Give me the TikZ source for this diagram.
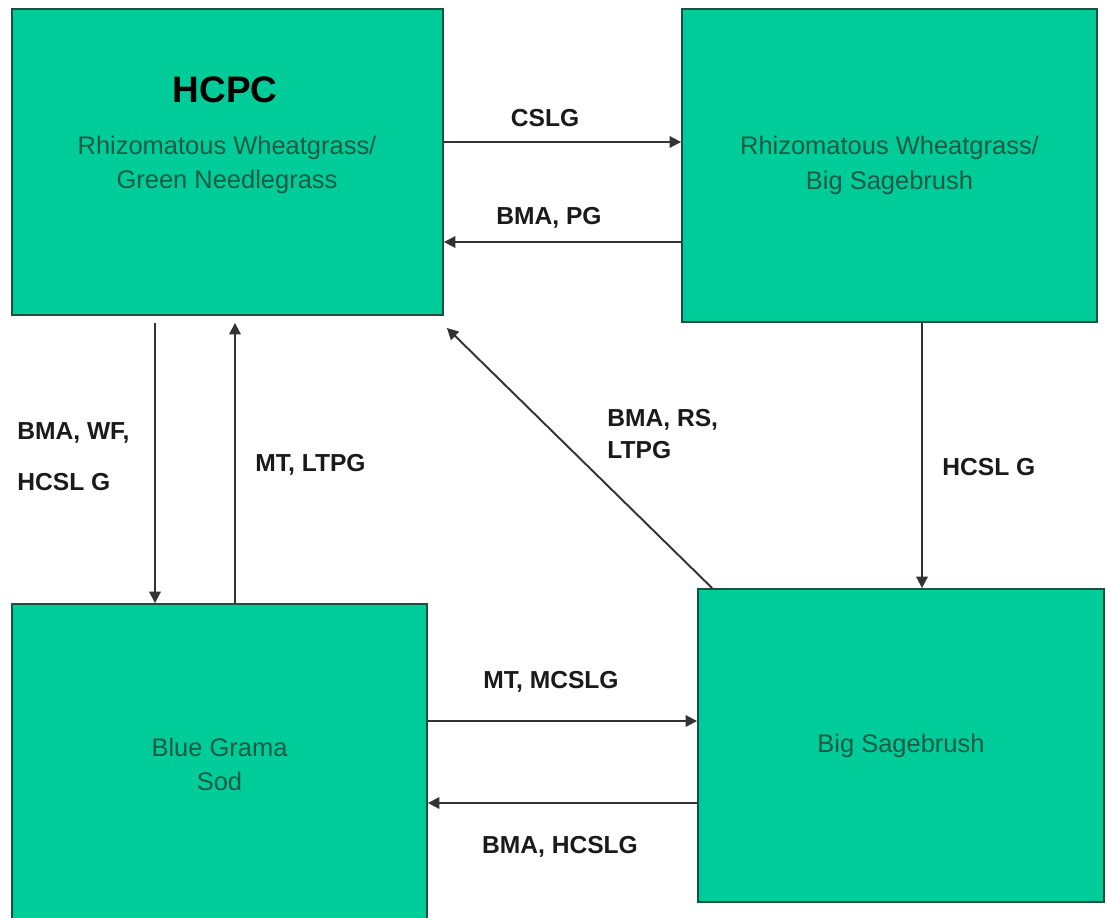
\documentclass[tikz,border=0pt]{standalone}
\usepackage{fontspec}
\setmainfont{Liberation Sans}
\usepackage{tikz}
\usetikzlibrary{arrows.meta, positioning, calc}
\usepackage{xcolor}

\definecolor{boxfill}{HTML}{00CC99}
\definecolor{boxline}{HTML}{1E5040}
\definecolor{boxtext}{HTML}{1F5A44}
\definecolor{flowline}{HTML}{333333}
\definecolor{labeltext}{HTML}{1A1A1A}

\tikzset{
  statebox/.style={draw=boxline, line width=1.1pt, fill=boxfill, inner sep=0pt,
    align=center, text=boxtext, font=\fontsize{14.5}{19.5}\selectfont},
  flow/.style={draw=flowline, line width=1.1pt, -{Triangle[length=6.5pt,width=6.5pt]}},
  flowlabel/.style={text=labeltext, inner sep=0pt, font=\fontsize{14}{17}\selectfont\bfseries}
}

\begin{document}
\begin{tikzpicture}[x=0.02cm, y=-0.02cm]

\useasboundingbox (0,0) rectangle (1106,917);

% -------- States --------
\node[statebox, minimum width=8.62cm, minimum height=6.12cm] (hcpc) at (227.5,162) {};
\node[text=black, font=\fontsize{21}{24}\selectfont\bfseries, inner sep=0pt] (hcpctitle) at (225,90) {HCPC};
\node[text=boxtext, align=center, font=\fontsize{14.5}{19.5}\selectfont, inner sep=0pt] (hcpcname) at (227,165)
{Rhizomatous Wheatgrass/\\Green Needlegrass};

\node[statebox, minimum width=8.30cm, minimum height=6.26cm] (rwbs) at (889.5,165.5)
{Rhizomatous Wheatgrass/\\Big Sagebrush};

\node[statebox, minimum width=8.30cm, minimum height=6.42cm] (bgs) at (219.5,764.5)
{Blue Grama\\Sod};

\node[statebox, minimum width=8.12cm, minimum height=6.26cm] (bs) at (901,745.5)
{Big Sagebrush};

% -------- Transitions --------
\draw[flow] (hcpc.east |- 0,142) -- (rwbs.west |- 0,142);
\draw[flow] (rwbs.west |- 0,242) -- (hcpc.east |- 0,242);
\draw[flow, shorten <=0.14cm] (hcpc.south -| 155,0) -- (bgs.north -| 155,0);
\draw[flow, shorten >=0.14cm] (bgs.north -| 235,0) -- (hcpc.south -| 235,0);
\draw[flow] (rwbs.south -| 922,0) -- (bs.north -| 922,0);
\draw[flow] (bgs.east |- 0,721) -- (bs.west |- 0,721);
\draw[flow] (bs.west |- 0,803) -- (bgs.east |- 0,803);
\draw[flow] ($(bs.north west)+(15,0)$) -- ($(hcpc.south east)+(3,12)$);

% -------- Labels --------
\node[flowlabel] (cslg) at (545,118) {CSLG};
\node[flowlabel] (bmapg) at (549,218) {BMA, PG};
\node[flowlabel, anchor=west] (bmawf) at (17,433) {BMA, WF,};
\node[flowlabel, anchor=west] (hcslgleft) at (17,482) {HCSL G};
\node[flowlabel, anchor=west] (mtltpg) at (255,465) {MT, LTPG};
\node[flowlabel, anchor=west, align=left, font=\fontsize{14}{18.5}\selectfont\bfseries] (bmars) at (607,434) {BMA, RS,\\LTPG};
\node[flowlabel, anchor=west] (hcslgright) at (942,467) {HCSL G};
\node[flowlabel] (mtmcslg) at (551,682) {MT, MCSLG};
\node[flowlabel] (bmahcslg) at (560,847) {BMA, HCSLG};

\end{tikzpicture}
\end{document}
